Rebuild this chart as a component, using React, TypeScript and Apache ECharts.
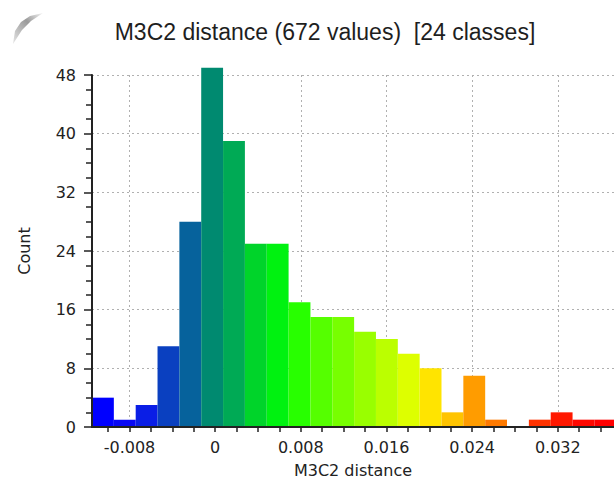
import React, { useEffect, useRef } from "react";
import * as echarts from "echarts";

const titleText = "M3C2 distance (672 values)  [24 classes]";
const xAxisName = "M3C2 distance";
const yAxisName = "Count";

const xMin = -0.0115;
const xMax = 0.03725;
const binWidth = 0.00204;

const counts = [4, 1, 3, 11, 28, 49, 39, 25, 25, 17, 15, 15, 13, 12, 10, 8, 2, 7, 1, 0, 1, 2, 1, 1];
const barColors = [
  "#0000ff", "#0808f4", "#0a1ee6", "#0a40c0", "#06629c", "#008a70", "#00aa55", "#00d42a",
  "#00f210", "#28ff00", "#55ff00", "#77ff00", "#99ff00", "#bbff00", "#ddff00", "#ffe400",
  "#ffc400", "#ff9c00", "#ff7a00", "#ff5500", "#ff3300", "#ff1800", "#ff0800", "#ff0000",
];

const xLabelTicks = [-0.008, 0, 0.008, 0.016, 0.024, 0.032];
const xMinorTicks = [
  -0.01, -0.008, -0.006, -0.004, -0.002, 0, 0.002, 0.004, 0.006, 0.008, 0.01, 0.012,
  0.014, 0.016, 0.018, 0.02, 0.022, 0.024, 0.026, 0.028, 0.03, 0.032, 0.034, 0.036,
];
const yMax = 48;
const yInterval = 8;

const labelFont = "DejaVu Sans";

export default function App() {
  const ref = useRef<HTMLDivElement>(null);
  useEffect(() => {
    if (!ref.current) return;
    const chart = echarts.init(ref.current, undefined, { renderer: "svg" });
    const data = counts.map((c, i) => [xMin + i * binWidth, xMin + (i + 1) * binWidth, c]);
    const fmt = (v: number) => (Math.abs(v) < 1e-12 ? "0" : String(+v.toFixed(3)));
    chart.setOption({
      animation: false,
      backgroundColor: "#ffffff",
      title: {
        text: titleText,
        left: 320,
        textAlign: "center",
        top: 15,
        textStyle: { fontFamily: "Liberation Sans", fontSize: 23, fontWeight: "normal", color: "#1e1e1e" },
      },
      grid: { left: 92, right: 0, top: 75, bottom: 51 },
      xAxis: [
        {
          type: "value",
          min: xMin,
          max: xMax,
          z: 5,
          name: xAxisName,
          nameLocation: "middle",
          nameGap: 35,
          nameTextStyle: { fontFamily: labelFont, fontSize: 16, color: "#222" },
          axisLine: { show: true, onZero: false, lineStyle: { color: "#222", width: 2 } },
          axisTick: { show: true, length: 5, customValues: xMinorTicks, lineStyle: { color: "#222", width: 1.5 } },
          axisLabel: {
            customValues: xLabelTicks,
            formatter: fmt,
            margin: 12,
            fontFamily: labelFont,
            fontSize: 16,
            color: "#222",
          },
          splitLine: { show: false },
        },
        {
          type: "value",
          min: xMin,
          max: xMax,
          z: 0,
          position: "top",
          axisLine: { show: false },
          axisTick: { show: false, customValues: xLabelTicks },
          axisLabel: { show: false, customValues: xLabelTicks },
          splitLine: { show: true, lineStyle: { color: "#b0b0b0", type: [2, 3], width: 1 } },
        },
      ],
      yAxis: [
        {
          type: "value",
          min: 0,
          max: yMax,
          interval: yInterval,
          z: 5,
          name: yAxisName,
          nameLocation: "middle",
          nameRotate: 90,
          nameGap: 60,
          nameTextStyle: { fontFamily: labelFont, fontSize: 16, color: "#222" },
          axisLine: { show: true, onZero: false, lineStyle: { color: "#222", width: 2 } },
          axisTick: { show: true, length: 8, lineStyle: { color: "#222", width: 1.5 } },
          minorTick: { show: true, splitNumber: 4, length: 6, lineStyle: { color: "#222", width: 1.5 } },
          axisLabel: { margin: 16, fontFamily: labelFont, fontSize: 16, color: "#222" },
          splitLine: { show: false },
        },
        {
          type: "value",
          min: 0,
          max: yMax,
          interval: yInterval,
          z: 0,
          position: "right",
          axisLine: { show: false },
          axisTick: { show: false },
          axisLabel: { show: false },
          splitLine: { show: true, lineStyle: { color: "#b0b0b0", type: [2, 3], width: 1 } },
        },
      ],
      graphic: [
        {
          type: "polygon",
          z: 10,
          shape: { points: [[13, 44], [15, 31], [21, 22], [30, 16], [43, 13], [31, 21], [22, 30]] },
          style: {
            fill: new echarts.graphic.LinearGradient(0, 1, 1, 0, [
              { offset: 0, color: "#e6e6e6" },
              { offset: 0.6, color: "#9a9a9a" },
              { offset: 1, color: "#f4f4f4" },
            ]),
          },
        },
      ],
      series: [
        {
          type: "custom",
          xAxisIndex: 0,
          yAxisIndex: 0,
          z: 2,
          clip: false,
          encode: { x: [0, 1], y: 2 },
          data,
          renderItem: (params: any, api: any) => {
            const x0 = api.value(0) as number;
            const x1 = Math.min(api.value(1) as number, xMax);
            const c = api.value(2) as number;
            if (!c) return { type: "group", children: [] };
            const tl = api.coord([x0, c]);
            const br = api.coord([x1, 0]);
            return {
              type: "rect",
              shape: { x: tl[0], y: tl[1], width: br[0] - tl[0], height: br[1] - tl[1] },
              style: { fill: barColors[params.dataIndex] },
            };
          },
        },
      ],
    });
    return () => chart.dispose();
  }, []);
  return (
    <div
      ref={ref}
      style={{ position: "absolute", left: 0, top: 0, width: 614, height: 483, background: "#fff" }}
    />
  );
}
